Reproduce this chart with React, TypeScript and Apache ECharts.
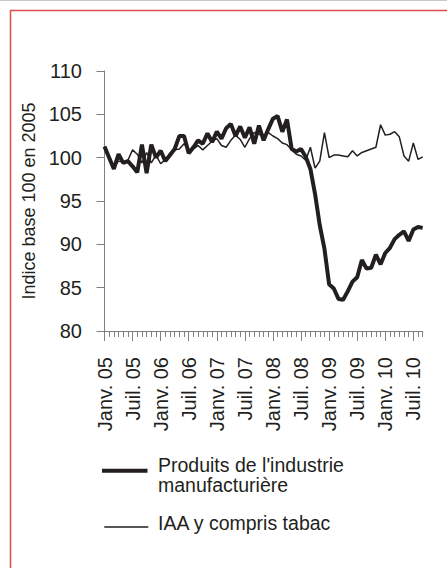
import React, { useEffect, useRef } from "react";
import * as echarts from "echarts";

const monthNames = ["Janv.", "Févr.", "Mars", "Avr.", "Mai", "Juin", "Juil.", "Août", "Sept.", "Oct.", "Nov.", "Déc."];
const yearLabels = ["05", "06", "07", "08", "09", "10"];
const pointCount = 69; // Janv. 05 .. Sept. 10

const manufacturing = [
  101.3, 100.0, 98.7, 100.4, 99.4, 99.6, 99.0, 98.3, 101.5, 98.2, 101.5, 100.0,
  100.8, 99.6, 100.3, 101.0, 102.5, 102.5, 100.5, 101.2, 102.0, 101.6, 102.8, 101.8,
  103.0, 102.2, 103.4, 103.9, 102.5, 103.6, 102.3, 103.5, 101.6, 103.7, 102.0, 103.3,
  104.5, 104.8, 103.0, 104.4, 101.0, 100.7, 101.0, 100.1, 98.7, 95.8, 92.2, 89.5,
  85.4, 84.9, 83.7, 83.6, 84.6, 85.7, 86.2, 88.2, 87.2, 87.3, 88.8, 87.7,
  89.0, 89.6, 90.6, 91.1, 91.5, 90.4, 91.7, 92.0, 91.9,
];

const foodTobacco = [
  101.0, 99.8, 98.9, 99.6, 99.5, 99.7, 100.9, 100.4, 99.4, 100.6, 99.4, 100.3,
  99.3, 99.8, 100.5, 100.9, 101.0, 101.6, 100.9, 101.0, 101.4, 100.9, 101.4, 101.9,
  102.2, 101.4, 101.2, 102.0, 102.6, 102.1, 101.2, 102.2, 102.9, 102.7, 102.5, 102.9,
  102.5, 102.2, 101.7, 101.5, 100.9, 100.4, 100.2, 99.7, 101.2, 98.8, 99.6, 102.9,
  100.0, 100.3, 100.3, 100.2, 100.1, 100.8, 100.2, 100.6, 100.8, 101.0, 101.2, 103.8,
  102.6, 102.7, 103.0, 102.4, 100.2, 99.6, 101.7, 99.8, 100.1,
];

const seriesNames = ["Produits de l'industrie\nmanufacturière", "IAA y compris tabac"];
const yAxisName = "Indice base 100 en 2005";

const categories: string[] = [];
for (const y of yearLabels) {
  for (const m of monthNames) {
    if (categories.length < pointCount) categories.push(`${m} ${y}`);
  }
}

const FONT = "'Liberation Sans', Arial, sans-serif";
const INK = "#231f20";
const AXIS = "#808080";

export default function App() {
  const ref = useRef<HTMLDivElement>(null);
  useEffect(() => {
    if (!ref.current) return;
    const chart = echarts.init(ref.current, undefined, { renderer: "svg" });
    chart.setOption({
      animation: false,
      backgroundColor: "#ffffff",
      textStyle: { fontFamily: FONT },
      grid: { left: 104.5, right: 24.3, top: 71, bottom: 237, containLabel: false },
      xAxis: [
        {
          type: "category",
          data: categories,
          boundaryGap: false,
          axisLine: { show: true, lineStyle: { color: AXIS, width: 1 } },
          axisTick: { show: true, interval: 0, length: 6, lineStyle: { color: AXIS } },
          axisLabel: {
            interval: 5,
            rotate: 90,
            margin: 26,
            color: INK,
            fontSize: 20,
            fontFamily: FONT,
          },
          splitLine: { show: false },
        },
        {
          type: "category",
          data: categories,
          boundaryGap: false,
          position: "bottom",
          axisLine: { show: false },
          axisTick: { show: true, interval: 5, length: 10, lineStyle: { color: AXIS } },
          axisLabel: { show: false },
          splitLine: { show: false },
        },
      ],
      yAxis: {
        type: "value",
        min: 80,
        max: 110,
        interval: 5,
        name: yAxisName,
        nameLocation: "middle",
        nameRotate: 90,
        nameGap: 56,
        nameTextStyle: { color: INK, fontSize: 18, fontFamily: FONT },
        axisLine: { show: true, lineStyle: { color: AXIS, width: 1 } },
        axisTick: { show: true, length: 8, lineStyle: { color: AXIS } },
        axisLabel: { color: INK, fontSize: 20, margin: 22.5, fontFamily: FONT },
        splitLine: { show: false },
      },
      series: [
        {
          type: "line",
          name: seriesNames[0],
          data: manufacturing,
          showSymbol: false,
          symbol: "none",
          lineStyle: { color: INK, width: 4 },
          itemStyle: { color: INK },
          z: 2,
        },
        {
          type: "line",
          name: seriesNames[1],
          data: foodTobacco,
          showSymbol: false,
          symbol: "none",
          lineStyle: { color: INK, width: 1.5 },
          itemStyle: { color: INK },
          z: 3,
        },
      ],
      graphic: [
        { type: "line", shape: { x1: 0, y1: 0.5, x2: 447, y2: 0.5 }, style: { stroke: "#c8c8c8", lineWidth: 1 } },
        { type: "rect", shape: { x: 10.5, y: 10.5, width: 700, height: 800 }, style: { fill: "none", stroke: "#de4b4b", lineWidth: 1.5 } },
        { type: "line", shape: { x1: 102, y1: 470.7, x2: 147.5, y2: 470.7 }, style: { stroke: INK, lineWidth: 4 } },
        {
          type: "text",
          x: 158,
          y: 455,
          style: {
            text: seriesNames[0],
            fill: INK,
            font: `19.5px ${FONT}`,
            lineHeight: 20,
            verticalAlign: "top",
            textVerticalAlign: "top",
          },
        },
        { type: "line", shape: { x1: 104.3, y1: 527, x2: 148.3, y2: 527 }, style: { stroke: INK, lineWidth: 1.5 } },
        { type: "text", x: 158, y: 523, style: { text: seriesNames[1], fill: INK, font: `19.5px ${FONT}`, textVerticalAlign: "middle", verticalAlign: "middle" } },
      ],
    });
    return () => chart.dispose();
  }, []);
  return <div ref={ref} style={{ position: "fixed", left: 0, top: 0, width: 447, height: 568 }} />;
}
